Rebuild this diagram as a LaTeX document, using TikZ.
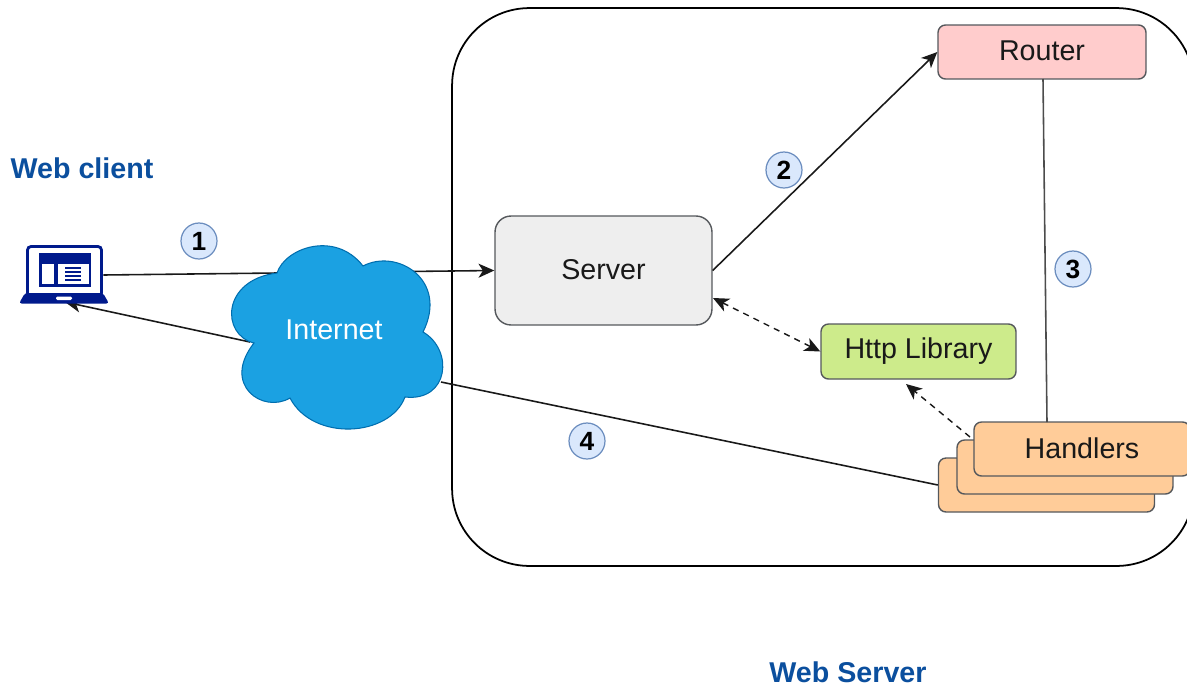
\documentclass[tikz,border=0pt]{standalone}
\usepackage{fontspec}
\setmainfont{Liberation Sans}
\usetikzlibrary{arrows.meta}
\definecolor{titleblue}{HTML}{0B4F9E}
\definecolor{laptopblue}{HTML}{001A8C}
\definecolor{cloudblue}{HTML}{1BA1E2}
\definecolor{cloudedge}{HTML}{006EAF}
\definecolor{boxedge}{HTML}{55585C}
\definecolor{badgefill}{HTML}{DAE8FC}
\definecolor{badgeedge}{HTML}{6C8EBF}
\definecolor{routerfill}{HTML}{FFCCCC}
\definecolor{serverfill}{HTML}{EEEEEE}
\definecolor{httpfill}{HTML}{CDEB8B}
\definecolor{handlerfill}{HTML}{FFCC99}
\tikzset{
  box/.style={draw=boxedge,line width=.8pt,rounded corners=.15cm,font=\fontsize{16.3}{18}\selectfont,text=black!90},
  badge/.style={circle,draw=badgeedge,fill=badgefill,line width=.7pt,minimum size=.72cm,inner sep=0pt,font=\fontsize{15}{17}\selectfont\bfseries},
  title/.style={text=titleblue,font=\fontsize{16.3}{18}\selectfont\bfseries},
  link/.style={line width=.9pt,black!90},
  dlink/.style={line width=.8pt,black!90,dash pattern=on 3.5pt off 3pt},
}
\begin{document}
\begin{tikzpicture}[x=.02cm,y=-.02cm,>={Stealth[length=9pt,width=8pt,inset=2.5pt]}]
        \useasboundingbox (0,0) rectangle (1187,687);
        \node[draw,line width=1pt,rounded corners=1.55cm,minimum width=14.84cm,minimum height=11.16cm] (webserver) at (823,287) {};
        \node[title] (clientlabel) at (82,168) {Web client};
        \node[title] (serverlabel) at (848,672) {Web Server};
        % nodes
        \node[minimum width=1.56cm,minimum height=1cm] (laptop) at (64,275) {};
        \node[box,fill=routerfill,minimum width=4.16cm,minimum height=1.08cm] (router) at (1042,52) {\raisebox{1pt}{Router}};
        \node[box,fill=serverfill,rounded corners=.32cm,minimum width=4.34cm,minimum height=2.18cm] (server) at (603.5,270.5) {\raisebox{1pt}{Server}};
        \node[box,fill=httpfill,minimum width=3.9cm,minimum height=1.1cm] (http) at (918.5,351.5) {\raisebox{-.5pt}{Http Library}};
        \node[box,fill=handlerfill,minimum width=4.32cm,minimum height=1.08cm] (handlersback) at (1046.5,485) {};
        \node[box,fill=handlerfill,minimum width=4.32cm,minimum height=1.08cm] (handlersmid) at (1065,467) {};
        \node[box,fill=handlerfill,minimum width=4.32cm,minimum height=1.08cm] (handlers) at (1082,449) {\raisebox{1pt}{Handlers}};
        \coordinate (serverlow) at (713,298);
        \coordinate (handlerstop) at (1047,422);
        \coordinate (handlersleft) at (970,437);
        \coordinate (routerlow) at (1043,79);
        \coordinate (httplow) at (906,384);
        \coordinate (laptoplow) at (65,302);
        \coordinate (cloudleft) at (250,342);
        \coordinate (cloudright) at (441,382);
        % connectors
        \draw[link,->] (laptop.east) -- (server.west);
        \draw[link,->] (cloudleft) -- (laptoplow);
        \draw[link] (cloudright) -- (handlersback.west);
        \draw[link,->] (server.east) -- (router.west);
        \draw[link,black!70] (routerlow) -- (handlerstop);
        \draw[dlink,<->] (serverlow) -- (http.west);
        \draw[dlink,->] (handlersleft) -- (httplow);
        % cloud
        \draw[fill=cloudblue,draw=cloudedge,line width=.6pt] (277,273) .. controls (285,248) and (335,230) .. (363,266)
        .. controls (397,248) and (449,280) .. (423,332) .. controls (454,350) and (449,402) .. (405,397)
        .. controls (390,437) and (313,442) .. (290,398) .. controls (263,414) and (221,385) .. (254,343)
        .. controls (221,335) and (221,280) .. (277,273) -- cycle;
        \node[text=white,font=\fontsize{16.3}{18}\selectfont] (internet) at (334,330) {Internet};
        % laptop
        \draw[laptopblue,line width=1.6pt,fill=white,rounded corners=2pt] (27.5,246.5) rectangle (101.5,296.5);
        \fill[laptopblue] (39,253) rectangle (91,287);
        \fill[white] (42,263.5) rectangle (54,284);
        \fill[white] (57.5,263.5) rectangle (88.5,284);
        \foreach \y in {267,271,275,279}
        \fill[laptopblue] (65,\y) rectangle (81,\y+2);
        \fill[laptopblue,rounded corners=1.5pt] (25,293) -- (103,293) -- (109,303.5) -- (19,303.5) -- cycle;
        \fill[white,rounded corners=.8pt] (56,296.5) rectangle (72,300);
        % numbers
        \foreach \n/\x/\y in {1/199/241,2/784/170,3/1073/269,4/587/441}
        \node[badge] (badge\n) at (\x,\y) {\n};
\end{tikzpicture}
\end{document}
